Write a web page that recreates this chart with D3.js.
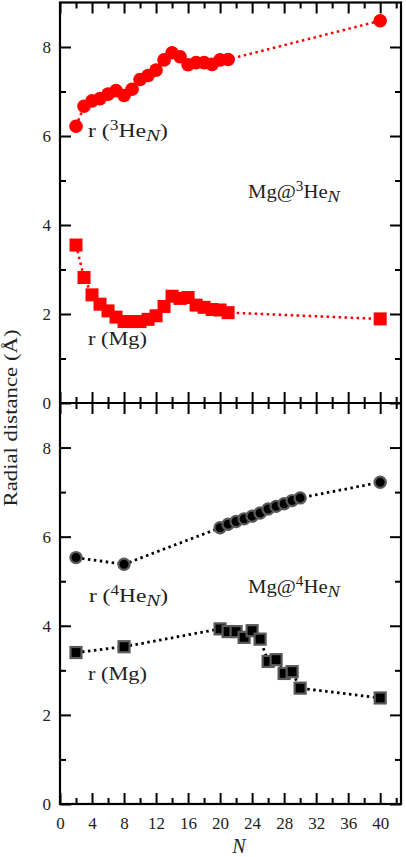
<!DOCTYPE html>
<html><head><meta charset="utf-8">
<script src="https://cdn.jsdelivr.net/npm/d3@7"></script>
<style>body{margin:0;background:#fff}svg{display:block}text{font-family:"Liberation Serif","Times New Roman",serif;fill:#222}</style>
</head><body>
<script>
// ---- data ----
const he3N = [2,3,4,5,6,7,8,9,10,11,12,13,14,15,16,17,18,19,20,21,40];
const he3R = [6.22,6.67,6.79,6.84,6.94,7.02,6.91,7.05,7.27,7.36,7.48,7.71,7.87,7.78,7.60,7.65,7.65,7.61,7.71,7.72,8.59];
const he3Mg = [3.55,2.82,2.43,2.22,2.07,1.93,1.83,1.83,1.83,1.88,1.96,2.17,2.40,2.35,2.37,2.20,2.15,2.10,2.09,2.03,1.89];
const he4N = [2,8,20,21,22,23,24,25,26,27,28,29,30,40];
const he4R = [5.53,5.38,6.20,6.28,6.34,6.40,6.46,6.53,6.62,6.68,6.74,6.81,6.87,7.22];
const he4Mg = [3.40,3.53,3.93,3.87,3.87,3.74,3.89,3.70,3.20,3.24,2.93,2.97,2.60,2.38];
const xMajor = [0,4,8,12,16,20,24,28,32,36,40];
const xMinor = [2,6,10,14,18,22,26,30,34,38,42];
const yMajor = [0,2,4,6,8];
const yMinor = [1,3,5,7];

const W = 406, H = 857;
const svg = d3.select("body").append("svg").attr("width", W).attr("height", H);
const L = 60, R = 401, T = 2.5, M = 403, B = 804;
const x = d3.scaleLinear().domain([0, 42.6]).range([L, R]);
const yTop = d3.scaleLinear().domain([0, 9]).range([M, T]);
const yBot = d3.scaleLinear().domain([0, 9]).range([B, M]);
const FONT = '"Liberation Serif","Times New Roman",serif';

function ticks(axisFn, scale, vals, size, transform, labels, cls) {
  const ax = axisFn(scale).tickValues(vals).tickSizeInner(size).tickSizeOuter(0).tickPadding(6);
  if (!labels) ax.tickFormat("");
  const g = svg.append("g").attr("class", cls || "").attr("transform", transform).call(ax);
  g.attr("font-family", FONT).attr("font-size", 17);
  g.select(".domain").remove();
  g.selectAll(".tick line").attr("stroke", "#000").attr("stroke-width", 2);
  g.selectAll(".tick text").attr("fill", "#222");
  return g;
}
const MJ = 11, MN = 6;
ticks(d3.axisBottom, x, xMajor, -MJ, `translate(0,${B})`, true).selectAll(".tick text").attr("y", 13);
ticks(d3.axisBottom, x, xMinor, -MN, `translate(0,${B})`, false);
ticks(d3.axisTop, x, xMajor, -MJ, `translate(0,${T})`, false);
ticks(d3.axisTop, x, xMinor, -MN, `translate(0,${T})`, false);
ticks(d3.axisBottom, x, xMajor, -MJ, `translate(0,${M})`, false);
ticks(d3.axisBottom, x, xMinor, -MN, `translate(0,${M})`, false);
ticks(d3.axisTop, x, xMajor, -MJ, `translate(0,${M})`, false);
ticks(d3.axisTop, x, xMinor, -MN, `translate(0,${M})`, false);
[yTop, yBot].forEach(ys => {
  ticks(d3.axisLeft, ys, yMajor, -MJ, `translate(${L},0)`, true, "ylab").selectAll(".tick text").attr("x", -9);
  ticks(d3.axisLeft, ys, yMinor, -MN, `translate(${L},0)`, false);
  ticks(d3.axisRight, ys, yMajor, -MJ, `translate(${R},0)`, false);
  ticks(d3.axisRight, ys, yMinor, -MN, `translate(${R},0)`, false);
});

// frame
svg.append("rect").attr("x", L).attr("y", T).attr("width", R - L).attr("height", B - T)
  .attr("fill", "none").attr("stroke", "#000").attr("stroke-width", 2.2);
svg.append("line").attr("x1", L).attr("x2", R).attr("y1", M).attr("y2", M).attr("stroke", "#000").attr("stroke-width", 2.2);

// series
function series(ns, vals, ys, color, dash, lw) {
  const line = d3.line().x((d, i) => x(ns[i])).y(d => ys(d));
  svg.append("path").datum(vals).attr("d", line).attr("fill", "none")
    .attr("stroke", color).attr("stroke-width", lw).attr("stroke-dasharray", dash);
}
function circles(ns, vals, ys, r, fill, stroke, sw) {
  svg.append("g").selectAll("circle").data(vals).join("circle")
    .attr("cx", (d, i) => x(ns[i])).attr("cy", d => ys(d)).attr("r", r)
    .attr("fill", fill).attr("stroke", stroke).attr("stroke-width", sw);
}
function squares(ns, vals, ys, s, fill, stroke, sw) {
  svg.append("g").selectAll("rect").data(vals).join("rect")
    .attr("x", (d, i) => x(ns[i]) - s / 2).attr("y", d => ys(d) - s / 2)
    .attr("width", s).attr("height", s)
    .attr("fill", fill).attr("stroke", stroke).attr("stroke-width", sw);
}
const red = "#f00";
series(he3N, he3R, yTop, red, "2.5,3.5", 2.5);
series(he3N, he3Mg, yTop, red, "2.5,3.5", 2.5);
circles(he3N, he3R, yTop, 6.8, red, "none", 0);
squares(he3N, he3Mg, yTop, 13, red, "none", 0);
series(he4N, he4R, yBot, "#000", "2.5,3.5", 2.8);
series(he4N, he4Mg, yBot, "#000", "2.5,3.5", 2.8);
circles(he4N, he4R, yBot, 5.6, "#000", "#5a5a5a", 2.2);
squares(he4N, he4Mg, yBot, 11, "#000", "#5a5a5a", 2.2);

// labels
function label(xp, yp, parts, fs, len) {
  const t = svg.append("text").attr("x", xp).attr("y", yp).style("font-size", fs + "px")
    .attr("textLength", len).attr("lengthAdjust", "spacingAndGlyphs");
  parts.forEach(p => {
    const s = t.append("tspan").text(p.t);
    if (p.sup) s.attr("dy", -7).style("font-size", (fs - 5) + "px");
    if (p.sub) s.attr("dy", 4).style("font-size", (fs - 2) + "px").style("font-style", "italic");
    if (p.back) s.attr("dy", p.back);
  });
  return t;
}
label(88, 137, [{t:"r ("},{t:"3",sup:true},{t:"He",back:7},{t:"N",sub:true},{t:")",back:-4}], 19, 80);
label(88, 345, [{t:"r (Mg)"}], 19, 59);
label(248, 198, [{t:"Mg@"},{t:"3",sup:true},{t:"He",back:7},{t:"N",sub:true}], 19, 92);
label(89, 602, [{t:"r ("},{t:"4",sup:true},{t:"He",back:7},{t:"N",sub:true},{t:")",back:-4}], 19, 79);
label(88, 680, [{t:"r (Mg)"}], 19, 59);
label(248, 593, [{t:"Mg@"},{t:"4",sup:true},{t:"He",back:7},{t:"N",sub:true}], 19, 92);

svg.append("text").attr("transform", "translate(17,418) rotate(-90)").attr("text-anchor", "middle")
  .style("font-size", "18px").attr("textLength", 177).attr("lengthAdjust", "spacingAndGlyphs")
  .text("Radial distance (Å)");
svg.append("text").attr("x", 239).attr("y", 853).attr("text-anchor", "middle")
  .style("font-size", "20px").style("font-style", "italic").text("N");
</script>
</body></html>
